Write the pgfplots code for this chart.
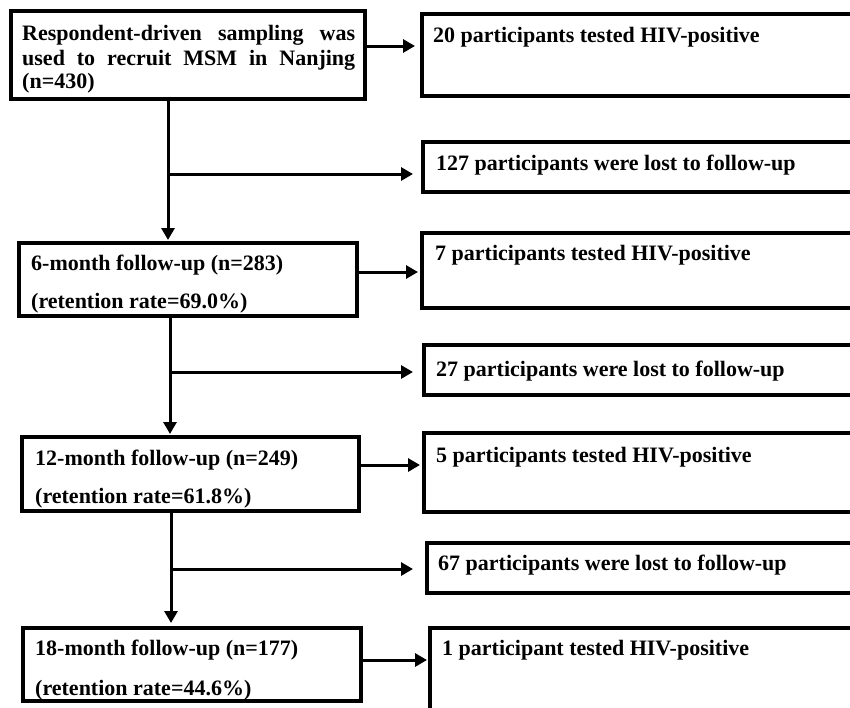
\documentclass[border=0pt]{standalone}
\usepackage{fontspec}
\setmainfont{Liberation Serif}
\usepackage{pgfplots}
\pgfplotsset{compat=1.18}
\usetikzlibrary{arrows.meta}
\begin{document}
\begin{tikzpicture}
\begin{axis}[width=850pt,height=707pt,scale only axis,
  xmin=0,xmax=850,ymin=0,ymax=707,y dir=reverse,hide axis,clip=true,
  bx/.style={black,line width=3.2pt,line join=miter,line cap=rect,mark=none},
  arr/.style={black,line width=3pt,line cap=butt,mark=none,-{Triangle[length=12pt,width=13pt]}}]
\fill[white] (axis cs:0,0) rectangle (axis cs:850,707);
% boxes
\addplot[bx] coordinates {(11,11) (365,11) (365,99) (11,99) (11,11)};
\addplot[bx] coordinates {(900,14) (422,14) (422,96) (900,96)};
\addplot[bx] coordinates {(900,142) (423,142) (423,192) (900,192)};
\addplot[bx] coordinates {(19,243) (357,243) (357,316) (19,316) (19,243)};
\addplot[bx] coordinates {(900,233) (422,233) (422,308) (900,308)};
\addplot[bx] coordinates {(900,345) (424,345) (424,395) (900,395)};
\addplot[bx] coordinates {(22,437) (359,437) (359,511) (22,511) (22,437)};
\addplot[bx] coordinates {(900,433) (424,433) (424,512) (900,512)};
\addplot[bx] coordinates {(900,543) (427,543) (427,593) (900,593)};
\addplot[bx] coordinates {(23,628) (361,628) (361,701) (23,701) (23,628)};
\addplot[bx] coordinates {(900,628) (430,628) (430,760)};
% arrows
\addplot[arr] coordinates {(365,46) (415,46)};
\addplot[arr] coordinates {(168,99) (168,240)};
\addplot[arr] coordinates {(168,174) (413,174)};
\addplot[arr] coordinates {(357,272) (418,272)};
\addplot[arr] coordinates {(170,316) (170,434)};
\addplot[arr] coordinates {(170,372) (413,372)};
\addplot[arr] coordinates {(359,465) (420,465)};
\addplot[arr] coordinates {(171,511) (171,623)};
\addplot[arr] coordinates {(171,569) (413,569)};
\addplot[arr] coordinates {(361,660) (427,660)};
% texts
\tikzset{t/.style={anchor=base west,inner sep=0pt,font=\fontsize{22}{26}\selectfont\bfseries}}
\node[t] at (axis cs:22,40) {\hbox to 333pt{Respondent-driven\hfill sampling\hfill was}};
\node[t] at (axis cs:22,65) {\hbox to 333pt{used\hfill to\hfill recruit\hfill MSM\hfill in\hfill Nanjing}};
\node[t] at (axis cs:22,88) {(n=430)};
\node[t] at (axis cs:433,42) {20 participants tested HIV-positive};
\node[t] at (axis cs:436,170) {127 participants were lost to follow-up};
\node[t] at (axis cs:31,270) {6-month follow-up (n=283)};
\node[t] at (axis cs:31,308) {(retention rate=69.0\%)};
\node[t] at (axis cs:435,260) {7 participants tested HIV-positive};
\node[t] at (axis cs:436,376) {27 participants were lost to follow-up};
\node[t] at (axis cs:35,465) {12-month follow-up (n=249)};
\node[t] at (axis cs:35,503) {(retention rate=61.8\%)};
\node[t] at (axis cs:436,462) {5 participants tested HIV-positive};
\node[t] at (axis cs:438,570) {67 participants were lost to follow-up};
\node[t] at (axis cs:35,655) {18-month follow-up (n=177)};
\node[t] at (axis cs:35,695) {(retention rate=44.6\%)};
\node[t] at (axis cs:442,655) {1 participant tested HIV-positive};
\end{axis}
\pgfresetboundingbox
\path (current axis.south west) rectangle (current axis.north east);
\end{tikzpicture}
\end{document}
